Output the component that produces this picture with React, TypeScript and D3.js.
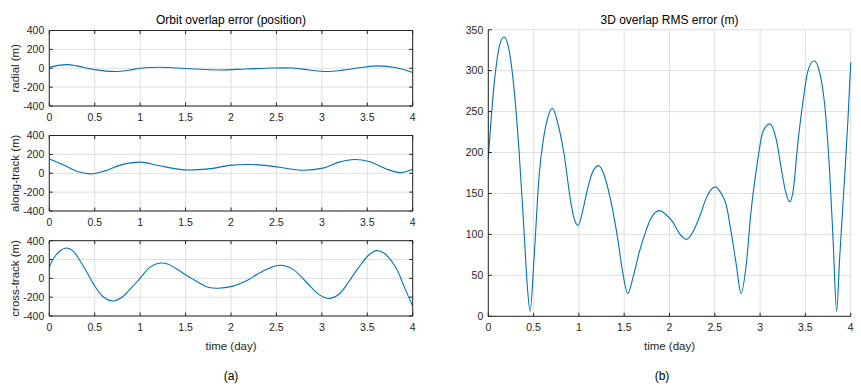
import React from "react";
import * as d3 from "d3";

// ---------- data ----------
const xTicks = [0, 0.5, 1, 1.5, 2, 2.5, 3, 3.5, 4];
const xTickLabels = ["0", "0.5", "1", "1.5", "2", "2.5", "3", "3.5", "4"];
const posTicks = [-400, -200, 0, 200, 400];
const rmsTicks = [0, 50, 100, 150, 200, 250, 300, 350];

const radialT = [0, 0.1, 0.2, 0.3, 0.5, 0.72, 0.87, 1.0, 1.22, 1.5, 1.86, 2.16, 2.45, 2.68, 2.86, 3.05, 3.23, 3.41, 3.62, 3.82, 4.0];
const radialV = [10, 30, 38, 25, -15, -35, -22, 0, 10, -2, -18, -8, 3, 2, -18, -35, -20, 5, 25, 5, -45];

const alongT = [0, 0.17, 0.31, 0.46, 0.61, 0.79, 1.0, 1.2, 1.49, 1.75, 2.01, 2.31, 2.53, 2.79, 3.01, 3.19, 3.36, 3.52, 3.71, 3.86, 4.0];
const alongV = [150, 82, 18, -7, 25, 89, 118, 82, 36, 46, 86, 89, 64, 32, 54, 118, 146, 125, 46, 7, 43];

const crossT = [0, 0.055, 0.11, 0.19, 0.26, 0.33, 0.41, 0.5, 0.59, 0.7, 0.79, 0.9, 1.0, 1.11, 1.22, 1.31, 1.42, 1.57, 1.75, 1.86, 2.01, 2.16, 2.34, 2.53, 2.68, 2.82, 2.97, 3.08, 3.19, 3.3, 3.41, 3.52, 3.6, 3.69, 3.82, 3.91, 4.0];
const crossV = [122, 224, 285, 322, 292, 200, 71, -81, -193, -241, -207, -105, 3, 119, 163, 149, 88, -3, -95, -105, -85, -31, 71, 139, 98, -31, -173, -214, -166, -31, 122, 251, 295, 264, 105, -98, -295];

const rmsT = [0, 0.063, 0.13, 0.173, 0.218, 0.284, 0.34, 0.395, 0.43, 0.461, 0.505, 0.561, 0.609, 0.653, 0.708, 0.764, 0.838, 0.904, 0.948, 0.993, 1.04, 1.096, 1.15, 1.218, 1.28, 1.354, 1.428, 1.483, 1.539, 1.594, 1.668, 1.742, 1.797, 1.889, 1.963, 2.037, 2.11, 2.19, 2.258, 2.33, 2.405, 2.46, 2.508, 2.57, 2.626, 2.68, 2.737, 2.79, 2.847, 2.9, 2.965, 3.03, 3.105, 3.18, 3.234, 3.282, 3.326, 3.363, 3.418, 3.473, 3.529, 3.595, 3.657, 3.713, 3.768, 3.805, 3.845, 3.878, 3.934, 3.97, 4.0];
const rmsV = [193, 282, 333, 341, 331, 278, 201, 103, 38, 6, 71, 172, 217, 241, 254, 237, 197, 144, 119, 111, 128, 156, 176, 184, 172, 140, 95, 54, 28, 46, 79, 105, 120, 129, 124, 115, 101, 94, 103, 121, 144, 155, 158, 150, 136, 103, 63, 28, 63, 128, 184, 225, 235, 215, 180, 152, 140, 152, 213, 262, 300, 312, 298, 258, 176, 95, 6, 71, 172, 241, 310];

const leftTitle = "Orbit overlap error (position)";
const rightTitle = "3D overlap RMS error (m)";
const xLabel = "time (day)";
const yLabels = ["radial (m)", "along-track (m)", "cross-track (m)"];

// ---------- styles ----------
const FONT = "'Liberation Sans', Arial, Helvetica, sans-serif";
const AXIS = "#262626";
const GRID = "#dfdfdf";
const LINE = "#0072BD";

type PanelProps = {
  x0: number; x1: number; y0: number; y1: number;
  domainY: [number, number]; yTicks: number[];
  t: number[]; v: number[]; box: boolean; curve: any;
};

function Panel({ x0, x1, y0, y1, domainY, yTicks, t, v, box, curve }: PanelProps) {
  const xs = d3.scaleLinear().domain([0, 4]).range([x0, x1]);
  const ys = d3.scaleLinear().domain(domainY).range([y1, y0]);
  const pts = t.map((d, i) => [d, v[i]] as [number, number]);
  const path = d3.line<[number, number]>().x((d) => xs(d[0])).y((d) => ys(d[1])).curve(curve)(pts) || "";
  const tl = 3.5;
  return (
    <g>
      {xTicks.map((tk) => (
        <line key={"gx" + tk} x1={xs(tk)} x2={xs(tk)} y1={y0} y2={y1} stroke={GRID} strokeWidth={1} />
      ))}
      {yTicks.map((tk) => (
        <line key={"gy" + tk} x1={x0} x2={x1} y1={ys(tk)} y2={ys(tk)} stroke={GRID} strokeWidth={1} />
      ))}
      <path d={path} fill="none" stroke={LINE} strokeWidth={1.1} />
      {/* axes */}
      <line x1={x0} x2={x0} y1={y0} y2={y1} stroke={AXIS} strokeWidth={1} />
      <line x1={x0} x2={x1} y1={y1} y2={y1} stroke={AXIS} strokeWidth={1} />
      {box && <line x1={x0} x2={x1} y1={y0} y2={y0} stroke={AXIS} strokeWidth={1} />}
      {box && <line x1={x1} x2={x1} y1={y0} y2={y1} stroke={AXIS} strokeWidth={1} />}
      {xTicks.map((tk, i) => (
        <g key={"tx" + tk}>
          <line x1={xs(tk)} x2={xs(tk)} y1={y1} y2={y1 - tl} stroke={AXIS} />
          {box && <line x1={xs(tk)} x2={xs(tk)} y1={y0} y2={y0 + tl} stroke={AXIS} />}
          <text x={xs(tk)} y={y1 + 15} textAnchor="middle" fontSize={10.5} fill={AXIS} fontFamily={FONT}>
            {xTickLabels[i]}
          </text>
        </g>
      ))}
      {yTicks.map((tk) => (
        <g key={"ty" + tk}>
          <line x1={x0} x2={x0 + tl} y1={ys(tk)} y2={ys(tk)} stroke={AXIS} />
          {box && <line x1={x1} x2={x1 - tl} y1={ys(tk)} y2={ys(tk)} stroke={AXIS} />}
          <text x={x0 - 5} y={ys(tk) + 3.8} textAnchor="end" fontSize={10.5} fill={AXIS} fontFamily={FONT}>
            {String(tk)}
          </text>
        </g>
      ))}
    </g>
  );
}

export default function App() {
  const L0 = 49.3, L1 = 412.7;
  const panels = [
    { y0: 30.5, y1: 106, t: radialT, v: radialV },
    { y0: 135.5, y1: 211, t: alongT, v: alongV },
    { y0: 240.7, y1: 316, t: crossT, v: crossV },
  ];
  return (
    <svg width={861} height={388} style={{ position: "absolute", left: 0, top: 0, background: "#fff" }}>
      <rect x={0} y={0} width={861} height={388} fill="#fff" />
      {panels.map((p, i) => (
        <g key={i}>
          <Panel x0={L0} x1={L1} y0={p.y0} y1={p.y1} domainY={[-400, 400]} yTicks={posTicks}
            t={p.t} v={p.v} box={true} curve={d3.curveCatmullRom.alpha(0.5)} />
          <text transform={`translate(19,${(p.y0 + p.y1) / 2}) rotate(-90)`} textAnchor="middle"
            fontSize={11.5} fill={AXIS} fontFamily={FONT}>
            {yLabels[i]}
          </text>
        </g>
      ))}
      <text x={(L0 + L1) / 2} y={24} textAnchor="middle" fontSize={12} fill="#000" fontFamily={FONT}>
        {leftTitle}
      </text>
      <text x={(L0 + L1) / 2} y={350} textAnchor="middle" fontSize={11.5} fill={AXIS} fontFamily={FONT}>
        {xLabel}
      </text>
      <text x={(L0 + L1) / 2} y={380} textAnchor="middle" fontSize={12} fill="#000" fontFamily={FONT}>
        (a)
      </text>

      <Panel x0={488.3} x1={850.7} y0={29.7} y1={316.3} domainY={[0, 350]} yTicks={rmsTicks}
        t={rmsT} v={rmsV} box={false} curve={d3.curveMonotoneX} />
      <text x={669.5} y={24} textAnchor="middle" fontSize={12} fill="#000" fontFamily={FONT}>
        {rightTitle}
      </text>
      <text x={669.5} y={350} textAnchor="middle" fontSize={11.5} fill={AXIS} fontFamily={FONT}>
        {xLabel}
      </text>
      <text x={662} y={380} textAnchor="middle" fontSize={12} fill="#000" fontFamily={FONT}>
        (b)
      </text>
    </svg>
  );
}
